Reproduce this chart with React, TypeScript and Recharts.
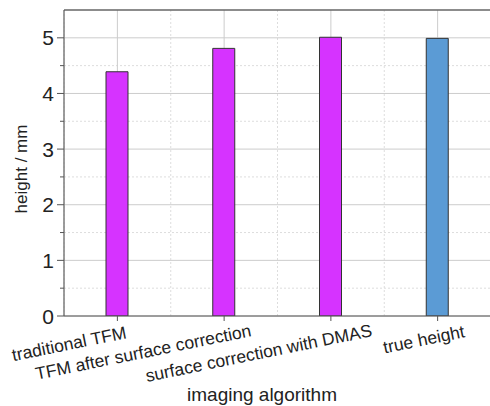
import { BarChart, Bar, Cell, XAxis, YAxis, CartesianGrid, ReferenceLine } from 'recharts';

const categories = [
    'traditional TFM',
    'TFM after surface correction',
    'surface correction with DMAS',
    'true height',
];
const heights = [4.39, 4.81, 5.01, 4.99];
const barColors = ['#D633FF', '#D633FF', '#D633FF', '#5B9BD5'];

const majorTicks = [0, 1, 2, 3, 4, 5];
const minorTicks = [0.5, 1.5, 2.5, 3.5, 4.5];
const allTicks = [0, 0.5, 1, 1.5, 2, 2.5, 3, 3.5, 4, 4.5, 5, 5.5];

const data = categories.map((name, i) => ({ name, value: heights[i], color: barColors[i] }));

const FONT = '"Liberation Sans", Arial, sans-serif';
const AXIS = '#555';

// label end offsets, tuned by eye
const LABEL_DX = [10, 28, 42, 28];
const LABEL_DY = [15, 13, 13, 14];

const renderXTick = ({ x, y, payload, index }: any) => {
    const i = index ?? categories.indexOf(payload.value);
    const tx = x + (LABEL_DX[i] ?? 0);
    const ty = y + (LABEL_DY[i] ?? 12);
    return (
        <text x={tx} y={ty} textAnchor="end" fontSize={17.5} fontFamily={FONT} fill="#222"
            transform={`rotate(-11.5, ${tx}, ${ty})`}>
            {payload.value}
        </text>
    );
};

const renderYTick = ({ x, y, payload }: any) => {
    const major = Number.isInteger(payload.value);
    if (payload.value >= 5.5) return <g />;
    return (
        <g>
            <line x1={x - (major ? 7 : 4)} x2={x} y1={y} y2={y} stroke={AXIS} strokeWidth={1} />
            {major && (
                <text x={x - 10} y={y} dy="0.36em" textAnchor="end" fontSize={21} fontFamily={FONT} fill="#222">
                    {payload.value}
                </text>
            )}
        </g>
    );
};

const xTitle = () => (
    <text x={262} y={401} textAnchor="middle" fontSize={19} fontFamily={FONT} fill="#222">
        imaging algorithm
    </text>
);

const yTitle = () => (
    <text x={27} y={169} textAnchor="middle" fontSize={17} fontFamily={FONT} fill="#222"
        transform="rotate(-90, 27, 169)">
        height / mm
    </text>
);

const dottedVerticals = ({ offset }: any) => {
    const n = categories.length;
    return categories.map((_, i) => offset.left + (offset.width * i) / n);
};

export default function App() {
    return (
        <div style={{ position: 'absolute', left: 0, top: 0, width: 490, height: 406, overflow: 'hidden', background: '#fff' }}>
            <BarChart width={490} height={406} data={data} margin={{ top: 10, right: -1, bottom: 0, left: 0 }}>
                <CartesianGrid horizontal={false} verticalCoordinatesGenerator={dottedVerticals}
                    stroke="#ddd" strokeDasharray="2 2" />
                <CartesianGrid vertical={false} horizontalValues={minorTicks} stroke="#ddd" strokeDasharray="2 2" />
                <CartesianGrid horizontalValues={majorTicks} stroke="#ccc" />
                <XAxis dataKey="name" height={90} tickSize={5} tickMargin={2} interval={0}
                    stroke={AXIS} tickLine={{ stroke: AXIS }} tick={renderXTick} label={xTitle} />
                <YAxis width={64} domain={[0, 5.5]} ticks={allTicks} interval={0} tickSize={0} tickMargin={0}
                    tickLine={false} stroke={AXIS} tick={renderYTick} label={yTitle} allowDataOverflow />
                <ReferenceLine y={5.5} stroke="#666" strokeWidth={1.5} />
                <Bar dataKey="value" barSize={22} stroke="#333" strokeWidth={1} isAnimationActive={false}>
                    {data.map((d, i) => (
                        <Cell key={`cell-${i}`} fill={d.color} />
                    ))}
                </Bar>
            </BarChart>
        </div>
    );
}
